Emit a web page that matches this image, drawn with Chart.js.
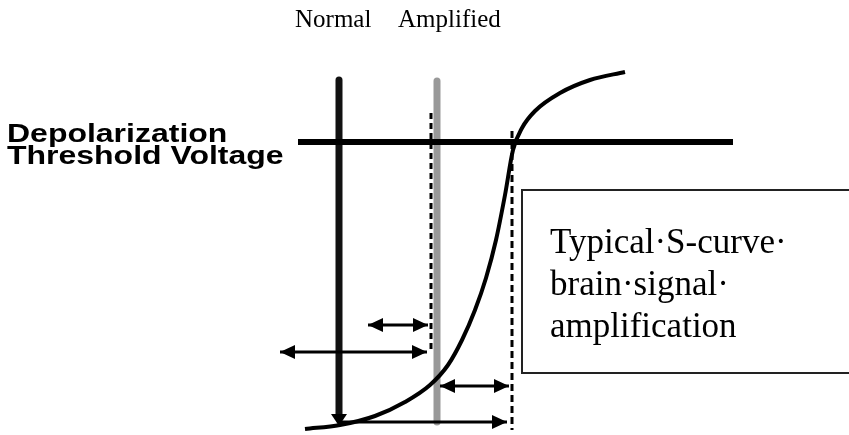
<!DOCTYPE html>
<html>
<head>
<meta charset="utf-8">
<script src="https://cdn.jsdelivr.net/npm/chart.js@4.4.1/dist/chart.umd.min.js"></script>
<style>
  html, body { margin: 0; padding: 0; background: #fff; }
  #wrap { width: 849px; height: 435px; position: relative; }
</style>
</head>
<body>
<div id="wrap"><canvas id="diagram"></canvas></div>
<script>
// diagram units: x = stimulus (left to right), y = depth from top (scale reversed)
const curveX = [305, 340, 375, 405, 430, 448, 462, 475, 486, 496, 505, 513, 522, 535, 560, 590, 625];
const curveY = [429, 425, 416, 402, 385, 365, 340, 310, 278, 240, 195, 150, 128, 111, 93, 80, 72];

const thresholdX = [298, 733];
const thresholdY = 142;

const normalX = 339;
const normalY = [80, 416];
const amplifiedX = 437;
const amplifiedY = [81, 422];

const dashLeftX = 431;
const dashLeftY = [113, 352];
const dashRightX = 512;
const dashRightY = [131, 430];

// arrows: [from x, to x, y, head at start, head at end]
const arrows = [
    [368, 428, 325, true, true],
    [280, 427, 352, true, true],
    [440, 509, 386, true, true],
    [339, 507, 422, false, true]
];

const boxX = [522, 860];
const boxY = [190, 373];

const topLabels = ["Normal", "Amplified"];
const sideLabels = ["Depolarization", "Threshold Voltage"];
const boxLines = ["Typical\u00B7S-curve\u00B7", "brain\u00B7signal\u00B7", "amplification"];

function seg(x1, y1, x2, y2) {
    return [{x: x1, y: y1}, {x: x2, y: y2}];
}

const datasets = [];

datasets.push({
    data: curveX.map((x, i) => ({x: x, y: curveY[i]})),
    borderColor: '#000', borderWidth: 4, cubicInterpolationMode: 'monotone', order: 1
});
datasets.push({
    data: seg(thresholdX[0], thresholdY, thresholdX[1], thresholdY),
    borderColor: '#000', borderWidth: 6, order: 2
});
datasets.push({
    data: seg(normalX, normalY[0], normalX, normalY[1]),
    borderColor: '#111', borderWidth: 7, borderCapStyle: 'round', order: 3
});
datasets.push({
    data: seg(amplifiedX, amplifiedY[0], amplifiedX, amplifiedY[1]),
    borderColor: '#999', borderWidth: 7, borderCapStyle: 'round', order: 3
});
datasets.push({
    data: seg(dashLeftX, dashLeftY[0], dashLeftX, dashLeftY[1]),
    borderColor: '#000', borderWidth: 3, borderDash: [6, 4], order: 4
});
datasets.push({
    data: seg(dashRightX, dashRightY[0], dashRightX, dashRightY[1]),
    borderColor: '#000', borderWidth: 3, borderDash: [7, 4], order: 4
});
arrows.forEach(a => {
    datasets.push({
        data: seg(a[0], a[2], a[1], a[2]),
        borderColor: '#000', borderWidth: 3, order: 1
    });
});

function head(ctx, x, y, dir, len, half) {
    ctx.beginPath();
    if (dir === 'right') { ctx.moveTo(x, y); ctx.lineTo(x - len, y - half); ctx.lineTo(x - len, y + half); }
    if (dir === 'left') { ctx.moveTo(x, y); ctx.lineTo(x + len, y - half); ctx.lineTo(x + len, y + half); }
    if (dir === 'down') { ctx.moveTo(x, y); ctx.lineTo(x - half, y - len); ctx.lineTo(x + half, y - len); }
    ctx.closePath();
    ctx.fill();
}

const drawExtras = {
    id: 'drawExtras',
    beforeDraw(chart) {
        const ctx = chart.ctx;
        ctx.save();
        ctx.fillStyle = '#fff';
        ctx.fillRect(0, 0, chart.width, chart.height);
        ctx.restore();
    },
    afterDatasetsDraw(chart) {
        const ctx = chart.ctx;
        const xs = chart.scales.x, ys = chart.scales.y;
        ctx.save();
        ctx.fillStyle = '#000';
        arrows.forEach(a => {
            const y = ys.getPixelForValue(a[2]);
            if (a[3]) head(ctx, xs.getPixelForValue(a[0]), y, 'left', 15, 7);
            if (a[4]) head(ctx, xs.getPixelForValue(a[1]), y, 'right', 15, 7);
        });
        // down arrowhead at the foot of the normal line
        head(ctx, xs.getPixelForValue(normalX), ys.getPixelForValue(normalY[1] + 10), 'down', 12, 8);

        // text box
        const bx = xs.getPixelForValue(boxX[0]), by = ys.getPixelForValue(boxY[0]);
        const bw = xs.getPixelForValue(boxX[1]) - bx, bh = ys.getPixelForValue(boxY[1]) - by;
        ctx.strokeStyle = '#222';
        ctx.lineWidth = 2;
        ctx.strokeRect(bx, by, bw, bh);

        ctx.fillStyle = '#000';
        ctx.textBaseline = 'alphabetic';
        ctx.font = '35px "Liberation Serif", "Times New Roman", serif';
        boxLines.forEach((t, i) => ctx.fillText(t, bx + 28, by + 63 + i * 42));

        ctx.font = '25px "Liberation Serif", "Times New Roman", serif';
        ctx.fillText(topLabels[0], 295, 27);
        ctx.fillText(topLabels[1], 398, 27);

        ctx.font = 'bold 26px "Liberation Sans", Arial, sans-serif';
        sideLabels.forEach((t, i) => {
            ctx.save();
            ctx.translate(7, 142 + i * 22);
            ctx.scale(1.23, 1);
            ctx.fillText(t, 0, 0);
            ctx.restore();
        });
        ctx.restore();
    }
};

new Chart(document.getElementById('diagram'), {
    type: 'scatter',
    data: { datasets: datasets },
    options: {
        responsive: true,
        maintainAspectRatio: false,
        animation: false,
        showLine: true,
        layout: { padding: 0 },
        elements: { point: { radius: 0, hoverRadius: 0 }, line: { fill: false } },
        plugins: { legend: { display: false }, tooltip: { enabled: false } },
        scales: {
            x: { type: 'linear', min: 0, max: 849, display: false },
            y: { type: 'linear', min: 0, max: 435, reverse: true, display: false }
        }
    },
    plugins: [drawExtras]
});
</script>
</body>
</html>
